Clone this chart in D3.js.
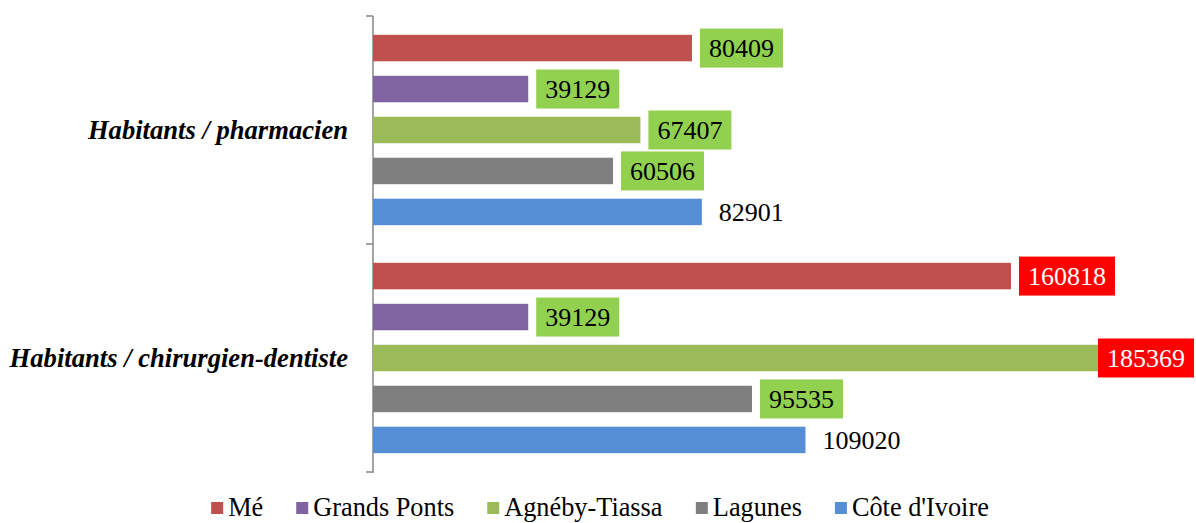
<!DOCTYPE html>
<html>
<head>
<meta charset="utf-8">
<script src="https://cdn.jsdelivr.net/npm/d3@7"></script>
<style>
  html, body { margin: 0; padding: 0; background: #fff; }
  svg { display: block; }
</style>
</head>
<body>
<svg id="chart" width="1196" height="523"></svg>
<script>
// ---- data ----
const categories = ["Habitants / pharmacien", "Habitants / chirurgien-dentiste"];
const seriesNames = ["Mé", "Grands Ponts", "Agnéby-Tiassa", "Lagunes", "Côte d'Ivoire"];
const valuesPharmacien = [80409, 39129, 67407, 60506, 82901];
const valuesDentiste = [160818, 39129, 185369, 95535, 109020];
const seriesColors = ["#C0504D", "#8064A2", "#9BBB59", "#7F7F7F", "#558ED5"];
const alertThreshold = 150000;       // values above this get a red label box
const referenceSeries = "Côte d'Ivoire"; // plain label, no box

// ---- layout ----
const W = 1196, H = 523;
const axisX = 373, plotTop = 16, plotBottom = 472;
const font = "'Liberation Serif','Times New Roman',Times,serif";

const svg = d3.select("#chart");

const table = categories.map((c, i) => ({
  category: c,
  values: seriesNames.map((s, j) => ({
    series: s, color: seriesColors[j],
    value: (i === 0 ? valuesPharmacien : valuesDentiste)[j]
  }))
}));

const x = d3.scaleLinear().domain([0, 200000]).range([axisX, axisX + 793.4]);
const y0 = d3.scaleBand().domain(categories).range([plotTop, plotBottom]).padding(0);
const y1 = d3.scaleBand().domain(seriesNames).range([0, y0.bandwidth()])
  .paddingInner(0.354).paddingOuter(0.46);

// category axis
const axis = d3.axisLeft(y0).tickSize(0).tickFormat("");
const gAxis = svg.append("g").attr("transform", `translate(${axisX},0)`).call(axis);
gAxis.select(".domain").remove();
gAxis.append("line").attr("x1", 0).attr("x2", 0).attr("y1", plotTop).attr("y2", plotBottom + 1)
  .attr("stroke", "#868686").attr("stroke-width", 1.5);
const tickYs = [plotTop, ...categories.map(c => y0(c) + y0.bandwidth())];
gAxis.selectAll("line.tk").data(tickYs).enter().append("line").attr("class", "tk")
  .attr("x1", -7).attr("x2", 0).attr("y1", d => d).attr("y2", d => d)
  .attr("stroke", "#868686").attr("stroke-width", 1.5);

// category labels
svg.append("g").selectAll("text").data(categories).enter().append("text")
  .attr("x", 348).attr("y", d => y0(d) + y0.bandwidth() / 2)
  .attr("dy", "0.35em").attr("text-anchor", "end")
  .style("font-family", font).style("font-size", "26.6px")
  .style("font-weight", "bold").style("font-style", "italic")
  .text(d => d);

// bars
const groups = svg.append("g").selectAll("g").data(table).enter().append("g")
  .attr("transform", d => `translate(0,${y0(d.category)})`);

groups.selectAll("rect").data(d => d.values).enter().append("rect")
  .attr("x", x(0))
  .attr("y", d => y1(d.series))
  .attr("width", d => x(d.value) - x(0))
  .attr("height", y1.bandwidth())
  .attr("fill", d => d.color);

// data labels
const pad = 9, gap = 8, boxH = 39, rightLimit = 1194;
groups.each(function(g) {
  const grp = d3.select(this);
  g.values.forEach(d => {
    const cy = y1(d.series) + y1.bandwidth() / 2;
    const t = grp.append("text")
      .attr("y", cy).attr("dy", "0.35em")
      .style("font-family", font).style("font-size", "26px")
      .text(d.value);
    const tw = t.node().getComputedTextLength();
    let bx = x(d.value) + gap;
    const bw = tw + 2 * pad;
    if (bx + bw > rightLimit) bx = rightLimit - bw;
    t.attr("x", bx + pad);
    if (d.series !== referenceSeries) {
      const red = d.value > alertThreshold;
      grp.insert("rect", () => t.node())
        .attr("x", bx).attr("y", cy - boxH / 2)
        .attr("width", bw).attr("height", boxH)
        .attr("fill", red ? "#FF0000" : "#92D050");
      t.attr("fill", red ? "#FFFFFF" : "#000000");
    } else {
      t.attr("fill", "#000000");
    }
  });
});

// legend
const leg = svg.append("g");
const sq = 12, sqGap = 5, itemGap = 33, legY = 507;
const items = leg.selectAll("g").data(seriesNames).enter().append("g");
items.append("rect").attr("width", sq).attr("height", sq).attr("y", legY - sq / 2 + 1)
  .attr("fill", (d, i) => seriesColors[i]);
items.append("text").attr("x", sq + sqGap).attr("y", legY).attr("dy", "0.35em")
  .style("font-family", font).style("font-size", "26.3px").text(d => d);
let cx = 0;
items.each(function() {
  const w = this.getBBox().width;
  d3.select(this).attr("transform", `translate(${cx},0)`);
  cx += w + itemGap;
});
const totalW = cx - itemGap;
leg.attr("transform", `translate(${(W - totalW) / 2 + 2},0)`);
</script>
</body>
</html>
